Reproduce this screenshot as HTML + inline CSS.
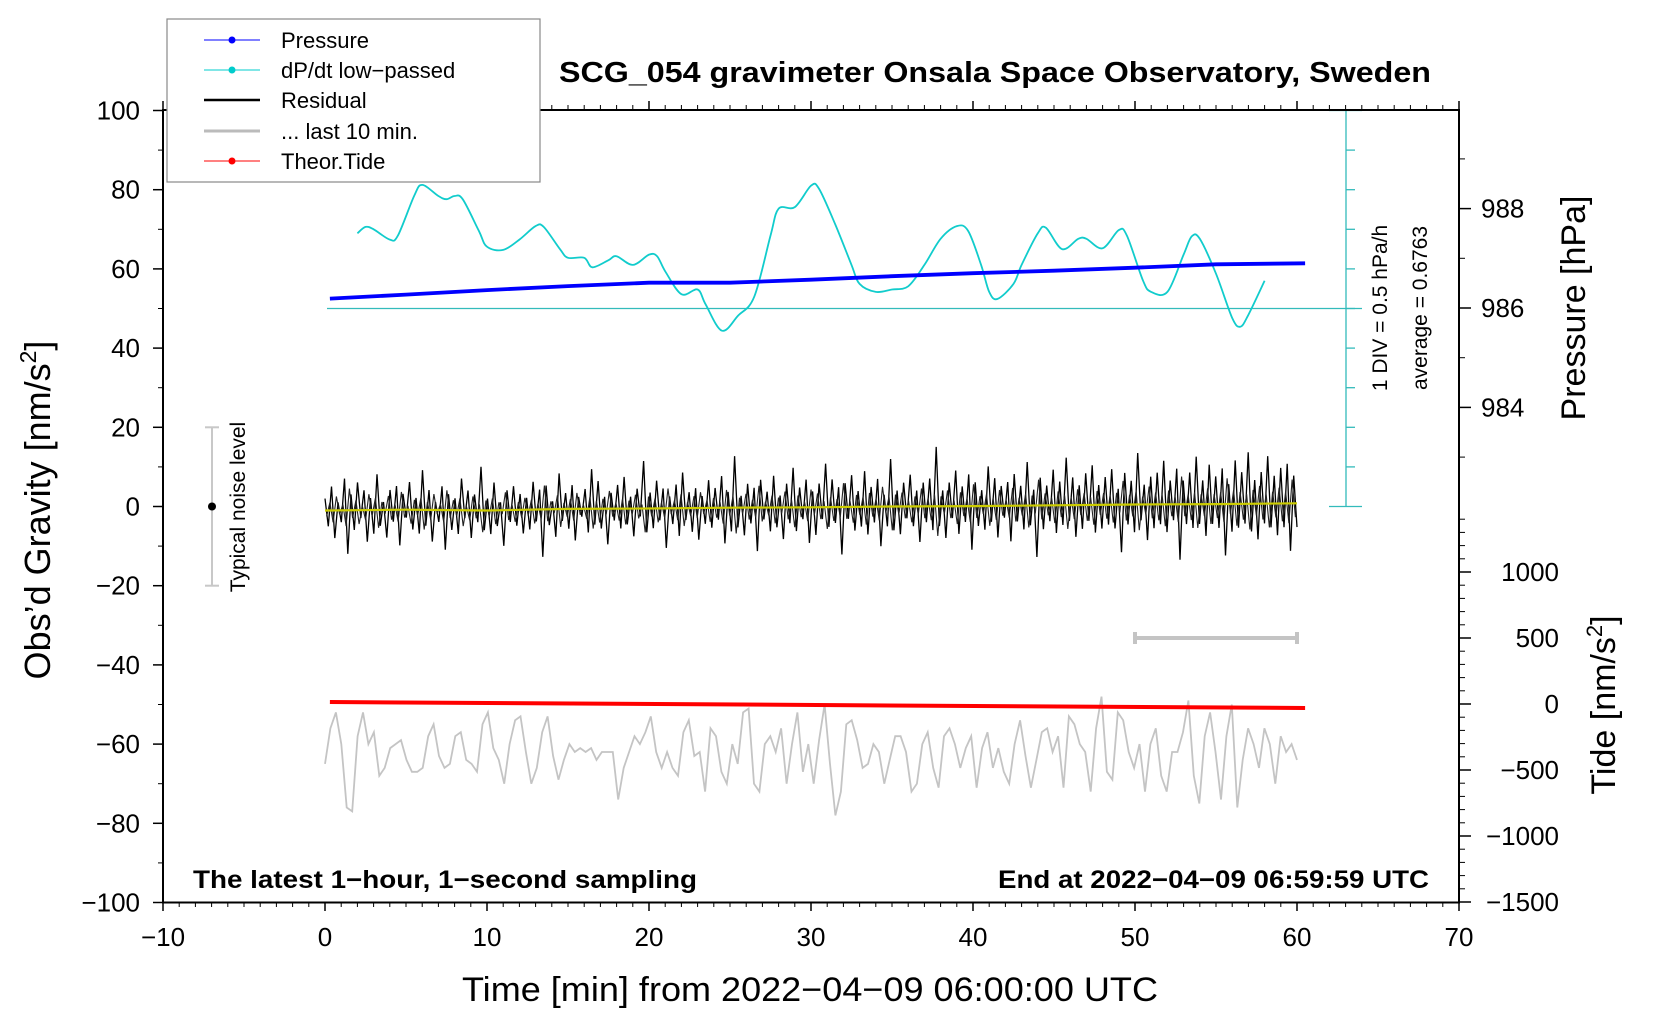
<!DOCTYPE html>
<html><head><meta charset="utf-8">
<style>
html,body{margin:0;padding:0;background:#fff;}
svg{display:block;font-family:"Liberation Sans",Arial,sans-serif;}
</style></head>
<body>
<svg id="chart" width="1660" height="1020" viewBox="0 0 1660 1020" xmlns="http://www.w3.org/2000/svg">
<g id="marks"></g>
<g id="axes"></g>
<text x="995" y="82" text-anchor="middle" font-size="29" font-weight="bold" textLength="872" lengthAdjust="spacingAndGlyphs">SCG_054 gravimeter Onsala Space Observatory, Sweden</text>
<text x="810" y="1001" text-anchor="middle" font-size="34" textLength="696" lengthAdjust="spacingAndGlyphs">Time [min] from 2022−04−09 06:00:00 UTC</text>
<text transform="translate(50,510) rotate(-90)" text-anchor="middle" font-size="36">Obs’d Gravity [nm/s<tspan font-size="23" dy="-14">2</tspan><tspan dy="14">]</tspan></text>
<text transform="translate(1585,308) rotate(-90)" text-anchor="middle" font-size="34">Pressure [hPa]</text>
<text transform="translate(1615,705) rotate(-90)" text-anchor="middle" font-size="34">Tide [nm/s<tspan font-size="22" dy="-13">2</tspan><tspan dy="13">]</tspan></text>
<text x="193" y="888" font-size="25" font-weight="bold" textLength="504" lengthAdjust="spacingAndGlyphs">The latest 1−hour, 1−second sampling</text>
<text x="1429" y="888" text-anchor="end" font-size="25" font-weight="bold" textLength="431" lengthAdjust="spacingAndGlyphs">End at 2022−04−09 06:59:59 UTC</text>
<text transform="translate(1387,308) rotate(-90)" text-anchor="middle" font-size="21">1 DIV = 0.5 hPa/h</text>
<text transform="translate(1427,308) rotate(-90)" text-anchor="middle" font-size="21">average = 0.6763</text>
<text transform="translate(245,507) rotate(-90)" text-anchor="middle" font-size="21">Typical noise level</text>
<g>
<rect x="167" y="19" width="373" height="163" fill="#fff" stroke="#888" stroke-width="1.2"/>
<g><line x1="204" y1="40" x2="260" y2="40" stroke="#0000ff" stroke-width="1"/><circle cx="232" cy="40" r="3.5" fill="#0000ff"/><text x="281" y="48" font-size="22">Pressure</text></g>
<g><line x1="204" y1="70" x2="260" y2="70" stroke="#00cccc" stroke-width="1"/><circle cx="232" cy="70" r="3.5" fill="#00cccc"/><text x="281" y="78" font-size="22">dP/dt low−passed</text></g>
<g><line x1="204" y1="100" x2="260" y2="100" stroke="#000" stroke-width="2.5"/><text x="281" y="108" font-size="22">Residual</text></g>
<g><line x1="204" y1="131" x2="260" y2="131" stroke="#bbb" stroke-width="3"/><text x="281" y="139" font-size="22">... last 10 min.</text></g>
<g><line x1="204" y1="161" x2="260" y2="161" stroke="#ff0000" stroke-width="1"/><circle cx="232" cy="161" r="3.5" fill="#ff0000"/><text x="281" y="169" font-size="22">Theor.Tide</text></g>
</g>
</svg>
<script>
// ---- data ----
const xTicks = [-10,0,10,20,30,40,50,60,70];
const yTicks = [-100,-80,-60,-40,-20,0,20,40,60,80,100];
const pressureTicks = [984,986,988];
const tideTicks = [-1500,-1000,-500,0,500,1000];
const pressureTimes = [0.3,5,10,15,20,25,30,35,40,45,50,55,60.5];
const pressureValues = [986.19,986.27,986.36,986.44,986.51,986.51,986.57,986.64,986.70,986.75,986.81,986.88,986.90];
const dpdtTimes = [2,2.5,3,4,4.5,5.5,6,7,7.5,8,8.5,9.5,10,11,12,13,13.5,14.5,15,16,16.5,17.5,18,19,20,20.5,21,22,23,23.5,24.5,25.5,26.5,27.5,28,29,30,30.5,31.5,32.5,33,34,35,36,37,38,39,39.7,40.5,41,41.5,42.5,43,44,44.5,45.5,46.5,47,48,49,49.5,50.5,51,52,53,53.5,54,55,56,56.5,57,58];
const dpdtValues = [0.95,1.03,1.00,0.87,0.92,1.42,1.56,1.42,1.38,1.42,1.38,0.98,0.78,0.74,0.87,1.04,1.03,0.75,0.64,0.64,0.52,0.61,0.66,0.55,0.68,0.66,0.47,0.18,0.24,0.05,-0.28,-0.09,0.15,0.92,1.26,1.28,1.55,1.51,1.06,0.55,0.31,0.21,0.24,0.28,0.55,0.88,1.04,0.98,0.55,0.21,0.12,0.31,0.55,0.95,1.02,0.75,0.88,0.88,0.76,0.99,0.92,0.35,0.21,0.21,0.68,0.91,0.88,0.44,-0.12,-0.23,-0.08,0.35];
const residualValues = [
3,-4,6,-7,2,-3,8,-11,4,-5,7,-2,5,-8,3,-6,9,-4,2,-7,5,-3,6,-9,4,-2,7,-5,3,-6,
10,-4,5,-8,2,-3,6,-10,4,-5,3,-6,8,-2,5,-7,4,-3,11,-5,3,-6,7,-4,2,-9,5,-3,6,-4,
4,-6,3,-5,7,-3,5,-12,6,-4,2,-7,9,-3,4,-5,6,-8,3,-2,5,-6,10,-4,7,-5,3,-9,4,-3,
6,-5,8,-4,3,-7,5,-2,12,-6,4,-5,7,-3,5,-10,3,-4,6,-7,9,-3,4,-6,5,-8,3,-4,7,-5,
5,-3,8,-9,4,-6,13,-5,3,-7,6,-4,5,-11,7,-3,4,-6,8,-5,3,-8,6,-4,10,-6,5,-3,7,-9,
4,-7,6,-3,11,-5,7,-4,5,-12,6,-3,8,-6,4,-5,9,-7,5,-4,7,-10,3,-5,12,-6,4,-7,6,-3,
8,-5,4,-9,6,-4,7,-6,15,-5,4,-8,6,-3,9,-7,5,-4,8,-11,6,-5,4,-6,10,-4,7,-8,5,-3,
6,-9,8,-4,5,-6,11,-5,4,-13,7,-6,5,-4,9,-7,6,-5,12,-4,7,-8,5,-6,8,-4,10,-7,5,-6,
7,-5,9,-6,4,-12,8,-5,6,-7,13,-4,5,-9,7,-6,8,-5,11,-7,6,-4,9,-14,6,-5,8,-6,12,-5,
6,-8,10,-5,7,-6,9,-13,5,-7,11,-6,8,-5,13,-7,6,-9,8,-5,12,-6,7,-8,9,-6,10,-12,7,-6];
const smoothTimes = [0,5,10,15,20,25,30,35,40,45,50,55,60];
const smoothValues = [-1,-0.8,-1,-0.6,-0.5,-0.3,-0.2,0,0.1,0.3,0.5,0.6,0.8];
const lastTenValues = [-65,-56,-52,-60,-76,-77,-58,-52,-60,-57,-68,-66,-61,-60,-59,-64,-67,-67,-66,-58,-55,-63,-66,-65,-58,-57,-64,-65,-67,-55,-52,-61,-64,-70,-60,-54,-53,-62,-70,-66,-57,-53,-63,-69,-64,-60,-62,-61,-62,-61,-64,-62,-62,-62,-74,-66,-62,-58,-60,-57,-53,-62,-66,-62,-66,-68,-57,-54,-63,-62,-72,-56,-58,-67,-70,-60,-65,-52,-51,-70,-72,-60,-58,-62,-56,-70,-60,-52,-67,-60,-70,-59,-50,-65,-78,-72,-55,-54,-59,-66,-65,-60,-62,-70,-64,-58,-58,-62,-72,-70,-60,-57,-66,-71,-58,-56,-60,-66,-61,-58,-71,-61,-57,-66,-61,-67,-70,-60,-54,-63,-71,-64,-57,-56,-62,-58,-71,-53,-55,-60,-62,-72,-56,-48,-67,-69,-52,-54,-62,-66,-60,-72,-60,-56,-68,-72,-62,-62,-57,-49,-68,-75,-58,-52,-62,-74,-58,-50,-76,-64,-56,-60,-66,-56,-60,-70,-58,-62,-60,-64];
const tideTimes = [0.3,60.5];
const tideValues = [15,-30];
const lastTenRange = [50,60];
const noiseRange = [-20,20];

// ---- scales ----
const X = t => 163 + (t + 10) * 16.2;
const Y = g => 506.5 - g * 3.96;
const P = h => 308 - (h - 986) * 49.7;
const T = v => 704 - v * 0.132;
const D = dp => Y(50 + dp * 20);

const NS = 'http://www.w3.org/2000/svg';
const marks = document.getElementById('marks');
const axes = document.getElementById('axes');
function mk(tag, attrs, parent) {
  const e = document.createElementNS(NS, tag);
  for (const k in attrs) e.setAttribute(k, attrs[k]);
  parent.appendChild(e);
  return e;
}
function pts(xs, ys) { return xs.map((x, i) => x.toFixed(1) + ',' + ys[i].toFixed(1)).join(' '); }
function smoothPath(xs, ys) {
  let d = 'M' + xs[0].toFixed(1) + ',' + ys[0].toFixed(1);
  for (let i = 0; i < xs.length - 1; i++) {
    const x0 = xs[Math.max(i - 1, 0)], y0 = ys[Math.max(i - 1, 0)];
    const x1 = xs[i], y1 = ys[i], x2 = xs[i + 1], y2 = ys[i + 1];
    const x3 = xs[Math.min(i + 2, xs.length - 1)], y3 = ys[Math.min(i + 2, xs.length - 1)];
    d += ' C' + (x1 + (x2 - x0) / 6).toFixed(1) + ',' + (y1 + (y2 - y0) / 6).toFixed(1) + ' ' +
      (x2 - (x3 - x1) / 6).toFixed(1) + ',' + (y2 - (y3 - y1) / 6).toFixed(1) + ' ' + x2.toFixed(1) + ',' + y2.toFixed(1);
  }
  return d;
}
function interp(ts, vs, t) {
  if (t <= ts[0]) return vs[0];
  for (let i = 0; i < ts.length - 1; i++) if (t <= ts[i + 1]) return vs[i] + (vs[i + 1] - vs[i]) * (t - ts[i]) / (ts[i + 1] - ts[i]);
  return vs[vs.length - 1];
}

// cyan dP/dt axis
const dAxis = mk('g', {}, marks);


mk('line', {x1: X(0) + 2, y1: D(0), x2: 1362, y2: D(0), stroke: '#33bbbb', 'stroke-width': 1.3}, dAxis);
mk('line', {x1: 1346, y1: Y(100), x2: 1346, y2: Y(0), stroke: '#33bbbb', 'stroke-width': 1.3}, dAxis);
for (let k = 0; k <= 10; k++) {
  const y = Y(k * 10);
  const full = (k === 0 || k === 10);
  mk('line', {x1: full ? 1329 : 1346, y1: y, x2: full ? 1362 : 1355, y2: y, stroke: '#33bbbb', 'stroke-width': 1.3}, dAxis);
}

// residual
const rn = residualValues.length;
const rx = residualValues.map((v, i) => X(i * 60 / (rn - 1)));
const ry = residualValues.map((v, i) => Y(v + interp(smoothTimes, smoothValues, i * 60 / (rn - 1))));
const resLine = mk('polyline', {points: pts(rx, ry), fill: 'none', stroke: '#000', 'stroke-width': 1.3}, marks);


const rx2 = residualValues.map((v, i) => X((i + 0.5) * 60 / (rn - 1)));
const ry2 = residualValues.map((v, i) => Y(-v * 0.5 + interp(smoothTimes, smoothValues, i * 60 / (rn - 1))));
rx2.pop(); ry2.pop();
const resLine2 = mk('polyline', {points: pts(rx2, ry2), fill: 'none', stroke: '#222', 'stroke-width': 1.1}, marks);



// yellow smoothed
const sm = mk('polyline', {points: pts(smoothTimes.map(X), smoothValues.map(Y)), fill: 'none', stroke: '#cccc00', 'stroke-width': 2.2}, marks);



// last 10 min
const ln = lastTenValues.length;
const lt = mk('polyline', {points: pts(lastTenValues.map((v, i) => X(i * 60 / (ln - 1))), lastTenValues.map(Y)), fill: 'none', stroke: '#c4c4c4', 'stroke-width': 1.8}, marks);



// last 10 min range bar
const lb = mk('g', {}, marks);


const lby = T(500);
mk('line', {x1: X(lastTenRange[0]), y1: lby, x2: X(lastTenRange[1]), y2: lby, stroke: '#c4c4c4', 'stroke-width': 4}, lb);
mk('line', {x1: X(lastTenRange[0]), y1: lby - 6, x2: X(lastTenRange[0]), y2: lby + 6, stroke: '#c4c4c4', 'stroke-width': 4}, lb);
mk('line', {x1: X(lastTenRange[1]), y1: lby - 6, x2: X(lastTenRange[1]), y2: lby + 6, stroke: '#c4c4c4', 'stroke-width': 4}, lb);

// tide
const td = mk('polyline', {points: pts(tideTimes.map(X), tideValues.map(T)), fill: 'none', stroke: '#ff0000', 'stroke-width': 4}, marks);



// cyan dP/dt
const dp = mk('path', {d: smoothPath(dpdtTimes.map(X), dpdtValues.map(D)), fill: 'none', stroke: '#11cccc', 'stroke-width': 1.8}, marks);



// pressure
const pr = mk('polyline', {points: pts(pressureTimes.map(X), pressureValues.map(P)), fill: 'none', stroke: '#0000ff', 'stroke-width': 3.8, 'stroke-linejoin': 'round'}, marks);



// noise bar
const nb = mk('g', {}, marks);


mk('line', {x1: 212, y1: Y(noiseRange[1]), x2: 212, y2: Y(noiseRange[0]), stroke: '#c8c8c8', 'stroke-width': 2}, nb);
mk('line', {x1: 205, y1: Y(noiseRange[1]), x2: 219, y2: Y(noiseRange[1]), stroke: '#c8c8c8', 'stroke-width': 2}, nb);
mk('line', {x1: 205, y1: Y(noiseRange[0]), x2: 219, y2: Y(noiseRange[0]), stroke: '#c8c8c8', 'stroke-width': 2}, nb);
mk('circle', {cx: 212, cy: Y(0), r: 4, fill: '#000'}, nb);

// frame
const fr = mk('rect', {x: 163, y: 110, width: 1296, height: 792.5, fill: 'none', stroke: '#000', 'stroke-width': 2}, axes);



// x ticks
for (let t = -10; t <= 70; t++) {
  const major = t % 10 === 0;
  mk('line', {x1: X(t), y1: 902, x2: X(t), y2: 902 + (major ? 9 : 5), stroke: '#000', 'stroke-width': major ? 1.5 : 1}, axes);
  mk('line', {x1: X(t), y1: 110, x2: X(t), y2: 110 - (major ? 9 : 5), stroke: '#000', 'stroke-width': major ? 1.5 : 1}, axes);
}
xTicks.forEach(t => {
  const tx = mk('text', {x: X(t), y: 946, 'text-anchor': 'middle', 'font-size': 26}, axes);
  tx.textContent = String(t).replace('-', '−');
  
  
});
// y ticks
for (let g = -100; g <= 100; g += 10) {
  const major = g % 20 === 0;
  mk('line', {x1: 163, y1: Y(g), x2: 163 - (major ? 10 : 5), y2: Y(g), stroke: '#000', 'stroke-width': major ? 1.5 : 1}, axes);
}
yTicks.forEach(g => {
  const tx = mk('text', {x: 140, y: Y(g) + 9, 'text-anchor': 'end', 'font-size': 26}, axes);
  tx.textContent = String(g).replace('-', '−');
  
  
});
// pressure ticks
for (let h = 983; h <= 989; h++) {
  const major = h % 2 === 0;
  mk('line', {x1: 1459, y1: P(h), x2: 1459 + (major ? 12 : 6), y2: P(h), stroke: '#000', 'stroke-width': major ? 1.5 : 1}, axes);
}
pressureTicks.forEach(h => {
  const tx = mk('text', {x: 1481, y: P(h) + 9, 'font-size': 26}, axes);
  tx.textContent = String(h);
  
  
});
// tide ticks
for (let v = -1500; v <= 1400; v += 100) {
  const major = v % 500 === 0;
  mk('line', {x1: 1459, y1: T(v), x2: 1459 + (major ? 12 : 6), y2: T(v), stroke: '#000', 'stroke-width': major ? 1.5 : 1}, axes);
}
tideTicks.forEach(v => {
  const tx = mk('text', {x: 1559, y: T(v) + 9, 'text-anchor': 'end', 'font-size': 26}, axes);
  tx.textContent = String(v).replace('-', '−');
  
  
});
</script>
</body></html>
